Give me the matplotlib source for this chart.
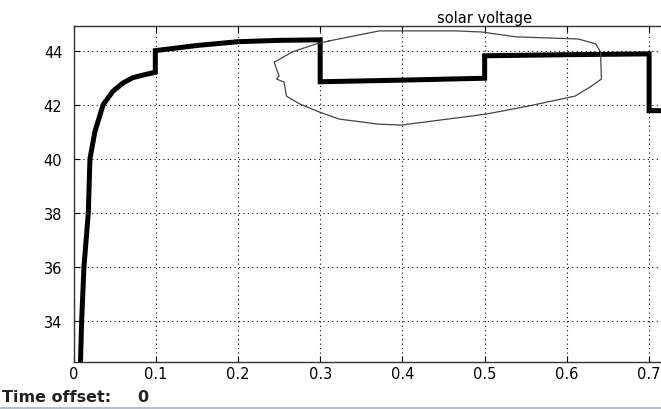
import matplotlib.pyplot as plt
from matplotlib.lines import Line2D

# solar voltage trace (time in s, voltage in V)
t = [0.008, 0.0085, 0.0099, 0.0127, 0.018, 0.020, 0.026, 0.036, 0.048, 0.060,
     0.072, 0.085, 0.0995, 0.0995, 0.15, 0.2, 0.25, 0.3, 0.3, 0.4, 0.5, 0.5,
     0.6, 0.7, 0.7, 0.8]
v = [30.0, 32.5, 34.0, 36.0, 38.0, 40.0, 41.0, 42.0, 42.5, 42.8,
     43.0, 43.1, 43.2, 44.0, 44.19, 44.33, 44.38, 44.4, 42.85, 42.91, 42.98, 43.81,
     43.85, 43.88, 41.78, 41.78]

# hand-drawn loop around the steps
loop_t = [0.311, 0.372, 0.465, 0.496, 0.538, 0.614, 0.635, 0.641, 0.642, 0.630,
          0.610, 0.553, 0.501, 0.399, 0.372, 0.323, 0.299, 0.275, 0.259, 0.256,
          0.247, 0.250, 0.244, 0.247, 0.266, 0.295, 0.311]
loop_v = [44.36, 44.73, 44.73, 44.69, 44.51, 44.43, 44.25, 43.95, 42.95, 42.69,
          42.32, 41.95, 41.65, 41.25, 41.28, 41.47, 41.73, 42.03, 42.32, 42.84,
          42.95, 43.06, 43.58, 43.62, 43.95, 44.25, 44.36]

xticks = [0, 0.1, 0.2, 0.3, 0.4, 0.5, 0.6, 0.7, 0.8, 0.9, 1.0]
xlabels = ["0", "0.1", "0.2", "0.3", "0.4", "0.5", "0.6", "0.7", "0.8", "0.9", "1"]
yticks = [34, 36, 38, 40, 42, 44]

plt.rcParams['font.family'] = ['DejaVu Sans']

fig = plt.figure(figsize=(6.61, 4.10), dpi=100)
ax = fig.add_axes([0.1112, 0.1146, 1.244, 0.8195])

ax.plot(t, v, color="black", linewidth=3.6, solid_joinstyle="miter")
ax.plot(loop_t, loop_v, color="#444444", linewidth=0.9)

ax.set_xlim(0, 1.0)
ax.set_ylim(32.49, 44.91)
ax.set_xticks(xticks)
ax.set_xticklabels(xlabels)
ax.set_yticks(yticks)
ax.grid(True, color="black", linestyle=(0, (1, 3)), linewidth=0.8)
ax.tick_params(direction="in", top=True, right=True, labelsize=10.5, length=4)
ax.tick_params(axis="x", pad=3)
ax.tick_params(axis="y", pad=8)
for s in ax.spines.values():
    s.set_linewidth(1.0)
    s.set_color("#333333")
ax.set_title("solar voltage", fontsize=10.5, pad=3)

fig.text(2 / 661, 1 - 398 / 410, "Time offset:", fontsize=11.5, weight="bold",
         color="#222222", va="center")
fig.text(137 / 661, 1 - 398 / 410, "0", fontsize=11.5, weight="bold",
         color="#222222", va="center")
fig.add_artist(Line2D([0, 1], [1 - 409 / 410] * 2, color="#a3b3c8", linewidth=1.2,
                      transform=fig.transFigure))

fig.savefig("out.png", dpi=100)
